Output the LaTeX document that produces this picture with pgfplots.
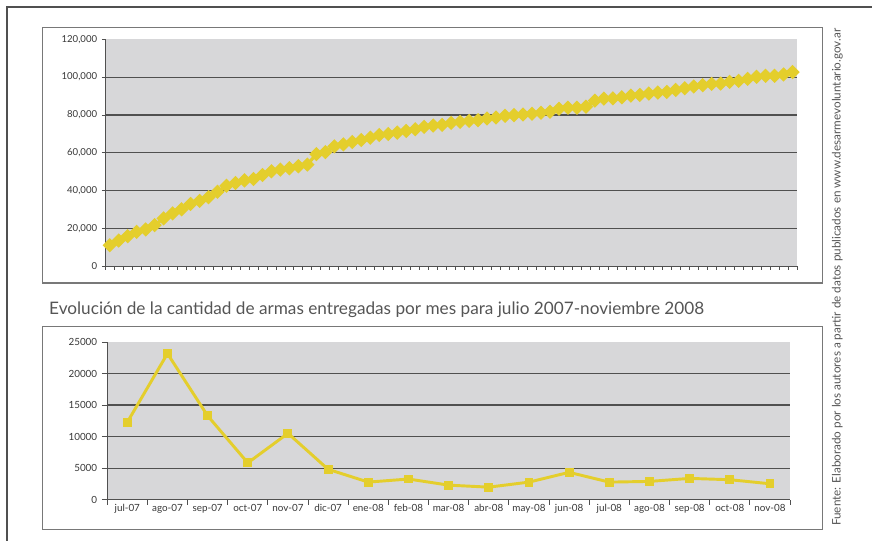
\documentclass[border=0pt]{standalone}
\usepackage{pgfplots}
\pgfplotsset{compat=1.18}
\usepackage{fontspec}
\setmainfont{Lato}
\definecolor{plotgray}{RGB}{215,215,217}
\definecolor{gridc}{RGB}{80,80,80}
\definecolor{yel}{RGB}{228,206,44}
\definecolor{boxc}{RGB}{120,120,120}
\definecolor{txt}{RGB}{55,55,55}
\definecolor{ttl}{RGB}{85,85,85}

\pgfplotstableread{
x y
1 11190
2 13680
3 15990
4 18290
5 19540
6 21850
7 25400
8 28060
9 30200
10 33040
11 34640
12 36590
13 39430
14 42630
15 44050
16 45470
17 46180
18 48310
19 50270
20 51150
21 51870
22 52930
23 53820
24 59330
25 60390
26 63410
27 64480
28 65720
29 66790
30 68030
31 69450
32 69980
33 70690
34 71580
35 72470
36 73710
37 74420
38 74780
39 75840
40 76380
41 76910
42 77260
43 78150
44 78690
45 79570
46 79930
47 80280
48 80640
49 81170
50 81710
51 83300
52 83840
53 83840
54 84370
55 87570
56 88630
57 88810
58 89340
59 90230
60 90590
61 91300
62 91830
63 92190
64 93250
65 94140
66 95030
67 95740
68 96450
69 96630
70 97510
71 98050
72 99110
73 100180
74 100710
75 100710
76 101420
77 102660
}\cumtable

\pgfplotstableread{
x y
1 12270
2 23160
3 13290
4 5820
5 10510
6 4800
7 2770
8 3260
9 2290
10 1970
11 2770
12 4320
13 2770
14 2880
15 3360
16 3150
17 2510
}\monthtable

\begin{document}
\begin{tikzpicture}
\path (0pt,0pt) rectangle (654.75pt,405.75pt);
% outer frame
\draw[color=gridc, line width=1.1pt] (5.25pt,0pt) -- (5.25pt,400.5pt) -- (654.75pt,400.5pt);
% chart boxes
\draw[boxc, line width=1pt] (31.725pt,193.275pt) rectangle (617.475pt,385.275pt);
\draw[boxc, line width=1pt] (31.725pt,8.25pt) rectangle (617.475pt,160.725pt);
% title
\node[anchor=west, inner sep=0pt, text=ttl, font=\fontsize{12.9}{14}\selectfont] at (36.75pt,173.25pt) {Evolución de la cantidad de armas entregadas por mes para julio 2007-noviembre 2008};
% source
\node[rotate=90, inner sep=0pt, text=ttl, font=\fontsize{8.8}{10}\selectfont] at (628.5pt,197.625pt) {Fuente: Elaborado por los autores a partir de datos publicados en www.desarmevoluntario.gov.ar};

\begin{axis}[
  at={(78.975pt,205.725pt)}, anchor=south west, scale only axis,
  width=519.3pt, height=170.55pt,
  xmin=0.5, xmax=77.5, ymin=0, ymax=120000,
  axis background/.style={fill=plotgray},
  axis lines*=left,
  axis line style={gridc, line width=0.8pt},
  xtick={0.5,1.5,...,77.5}, xticklabels={},
  ytick={0,20000,40000,60000,80000,100000,120000},
  yticklabels={0,{20,000},{40,000},{60,000},{80,000},{100,000},{120,000}},
  extra y ticks={20000,40000,60000,80000,100000},
  extra y tick labels={},
  extra y tick style={grid=major},
  major grid style={gridc, line width=0.8pt},
  tick align=outside, major tick length=2.5pt,
  tick style={gridc, line width=0.6pt},
  ticklabel style={font=\fontsize{7.2}{8}\selectfont, text=txt},
  scaled y ticks=false,
  clip=false,
]
\addplot[yel, line width=2.4pt, mark=square*, mark size=2.6pt, mark options={rotate=45, solid}] table[x=x, y=y] {\cumtable};
\end{axis}

\begin{axis}[
  at={(80.475pt,30.75pt)}, anchor=south west, scale only axis,
  width=512.55pt, height=118.3pt,
  xmin=0.5, xmax=17.5, ymin=0, ymax=25000,
  axis background/.style={fill=plotgray},
  axis lines*=left,
  axis line style={gridc, line width=0.8pt},
  xtick={0.5,1.5,...,17.5}, xticklabels={},
  extra x ticks={1,2,...,17},
  extra x tick labels={jul-07,ago-07,sep-07,oct-07,nov-07,dic-07,ene-08,feb-08,mar-08,abr-08,may-08,jun-08,jul-08,ago-08,sep-08,oct-08,nov-08},
  extra x tick style={major tick length=0pt},
  ytick={0,5000,10000,15000,20000,25000},
  yticklabels={0,5000,10000,15000,20000,25000},
  extra y ticks={5000,10000,15000,20000},
  extra y tick labels={},
  extra y tick style={grid=major},
  major grid style={gridc, line width=0.8pt},
  tick align=outside, major tick length=4pt,
  tick style={gridc, line width=0.6pt},
  ticklabel style={font=\fontsize{7.4}{8}\selectfont, text=txt},
  scaled y ticks=false,
  clip=false,
]
\addplot[yel, line width=2.2pt, mark=square*, mark size=2.25pt, mark options={solid}] table[x=x, y=y] {\monthtable};
\end{axis}
\end{tikzpicture}
\end{document}
